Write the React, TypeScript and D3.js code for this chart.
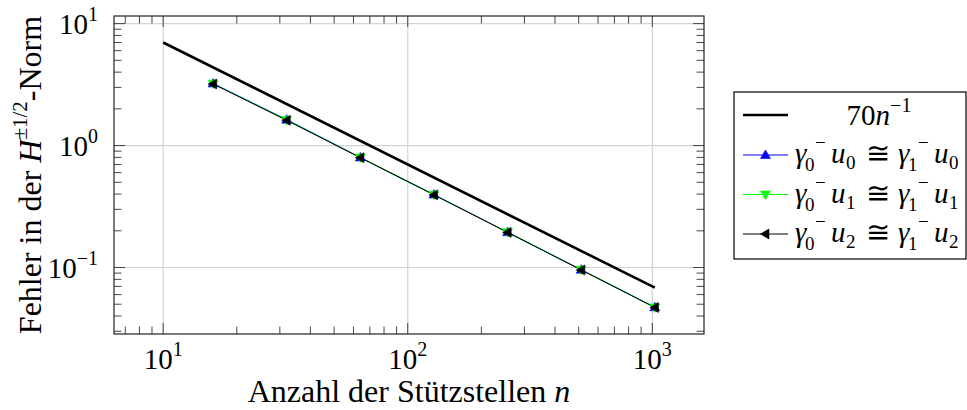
import * as d3 from "d3";

// Stützstellen n
const nodes = [16, 32, 64, 128, 256, 512, 1024];
// error values
const errU0 = [3.23, 1.63, 0.8, 0.396, 0.195, 0.096, 0.0472];
const errU1 = [3.22, 1.62, 0.8, 0.395, 0.195, 0.0958, 0.0471];
const errU2 = [3.2, 1.61, 0.795, 0.394, 0.194, 0.0955, 0.047];
// reference line 70 n^-1
const refN = [10, 1024];
const refCoef = 70;

const xTickExps = [1, 2, 3];
const yTickExps = [-1, 0, 1];

const W = 967;
const H = 410;
const plot = { left: 114, right: 704, top: 16, bottom: 334 };
const FONT = "'Liberation Serif', 'Times New Roman', serif";

function enlarged(lo: number, hi: number) {
  const a = Math.log10(lo);
  const b = Math.log10(hi);
  const pad = (b - a) * 0.1;
  return [Math.pow(10, a - pad), Math.pow(10, b + pad)];
}

const refVals = refN.map((n) => refCoef / n);
const allY = [...errU0, ...errU1, ...errU2, ...refVals];

const x = d3
  .scaleLog()
  .domain(enlarged(d3.min(refN)!, d3.max(nodes)!))
  .range([plot.left, plot.right]);
const y = d3
  .scaleLog()
  .domain(enlarged(d3.min(allY)!, d3.max(allY)!))
  .range([plot.bottom, plot.top]);

function minorTicks(scale: d3.ScaleLogarithmic<number, number>) {
  const [a, b] = scale.domain();
  const out: number[] = [];
  for (let e = Math.floor(Math.log10(a)); e <= Math.ceil(Math.log10(b)); e++) {
    for (let m = 2; m <= 9; m++) {
      const v = m * Math.pow(10, e);
      if (v > a && v < b) out.push(v);
    }
  }
  return out;
}

const series = [
  { vals: errU0, color: "#0000ff", shape: "up" },
  { vals: errU1, color: "#00ff00", shape: "down" },
  { vals: errU2, color: "#000000", shape: "left" },
];

function marker(shape: string, cx: number, cy: number, color: string, key: string) {
  const r = 5;
  let pts: [number, number][];
  if (shape === "up") pts = [[cx, cy - r], [cx + r, cy + r * 0.7], [cx - r, cy + r * 0.7]];
  else if (shape === "down") pts = [[cx, cy + r], [cx + r, cy - r * 0.7], [cx - r, cy - r * 0.7]];
  else pts = [[cx - r, cy], [cx + r * 0.7, cy - r], [cx + r * 0.7, cy + r]];
  return <polygon key={key} points={pts.map((p) => p.join(",")).join(" ")} fill={color} stroke={color} strokeWidth={0.6} />;
}

// one legend entry  γ_0^- u_i ≅ γ_1^- u_i, pieces placed along the row
function LegendMath({ x0, yb, idx }: { x0: number; yb: number; idx: number }) {
  const big = 29;
  const small = 19;
  const part = (dx: number, gSub: string) => (
    <>
      <text x={x0 + dx} y={yb} fontSize={big} fontStyle="italic">γ</text>
      <text x={x0 + dx + 20} y={yb - 14} fontSize={small}>−</text>
      <text x={x0 + dx + 10} y={yb + 8} fontSize={small}>{gSub}</text>
      <text x={x0 + dx + 36} y={yb} fontSize={big} fontStyle="italic">u</text>
      <text x={x0 + dx + 51} y={yb + 6} fontSize={small}>{String(idx)}</text>
    </>
  );
  return (
    <g fill="#000">
      {part(0, "0")}
      <text x={x0 + 71} y={yb} fontSize={big}>≅</text>
      {part(103, "1")}
    </g>
  );
}

export default function App() {
  const line = d3
    .line<[number, number]>()
    .x((d) => x(d[0]))
    .y((d) => y(d[1]));

  const xMinor = minorTicks(x);
  const yMinor = minorTicks(y);
  const xMajor = xTickExps.map((e) => Math.pow(10, e));
  const yMajor = yTickExps.map((e) => Math.pow(10, e));
  const tickCol = "#333";

  const legend = { left: 734, right: 966, top: 92, bottom: 259 };
  const rows = [115, 155, 194.5, 234];
  const sampleX0 = 743;
  const sampleX1 = 788;

  return (
    <svg width={W} height={H} style={{ position: "absolute", left: 0, top: 0, background: "#fff" }} fontFamily={FONT}>
      {/* grid */}
      {xMajor.map((v) => (
        <line key={"gx" + v} x1={x(v)} x2={x(v)} y1={plot.top} y2={plot.bottom} stroke="#d3d3d3" strokeWidth={1.2} />
      ))}
      {yMajor.map((v) => (
        <line key={"gy" + v} y1={y(v)} y2={y(v)} x1={plot.left} x2={plot.right} stroke="#d3d3d3" strokeWidth={1.2} />
      ))}

      {/* ticks */}
      {xMinor.map((v) => (
        <g key={"xm" + v} stroke={tickCol} strokeWidth={0.9}>
          <line x1={x(v)} x2={x(v)} y1={plot.bottom} y2={plot.bottom - 7.5} />
          <line x1={x(v)} x2={x(v)} y1={plot.top} y2={plot.top + 7.5} />
        </g>
      ))}
      {yMinor.map((v) => (
        <g key={"ym" + v} stroke={tickCol} strokeWidth={0.9}>
          <line y1={y(v)} y2={y(v)} x1={plot.left} x2={plot.left + 7.5} />
          <line y1={y(v)} y2={y(v)} x1={plot.right} x2={plot.right - 7.5} />
        </g>
      ))}
      {xMajor.map((v) => (
        <g key={"xM" + v} stroke={tickCol} strokeWidth={0.9}>
          <line x1={x(v)} x2={x(v)} y1={plot.bottom} y2={plot.bottom - 11} />
          <line x1={x(v)} x2={x(v)} y1={plot.top} y2={plot.top + 11} />
        </g>
      ))}
      {yMajor.map((v) => (
        <g key={"yM" + v} stroke={tickCol} strokeWidth={0.9}>
          <line y1={y(v)} y2={y(v)} x1={plot.left} x2={plot.left + 11} />
          <line y1={y(v)} y2={y(v)} x1={plot.right} x2={plot.right - 11} />
        </g>
      ))}

      {/* reference line */}
      <path d={line(refN.map((n, i) => [n, refVals[i]]))!} fill="none" stroke="#000" strokeWidth={2.6} />

      {/* series lines */}
      {series.map((s, i) => (
        <path key={"l" + i} d={line(nodes.map((n, j) => [n, s.vals[j]]))!} fill="none" stroke={s.color} strokeWidth={1} />
      ))}
      {series.map((s, i) => (
        <g key={"m" + i}>{nodes.map((n, j) => marker(s.shape, x(n), y(s.vals[j]), s.color, i + "-" + j))}</g>
      ))}

      {/* frame */}
      <rect x={plot.left} y={plot.top} width={plot.right - plot.left} height={plot.bottom - plot.top} fill="none" stroke="#222" strokeWidth={1.2} />

      {/* tick labels */}
      {xTickExps.map((e) => (
        <text key={"xt" + e} x={x(Math.pow(10, e))} y={369} fontSize={29} textAnchor="middle" fill="#000">
          10<tspan fontSize={20} dy={-13}>{e < 0 ? "−" + -e : String(e)}</tspan>
        </text>
      ))}
      {yTickExps.map((e) => (
        <text key={"yt" + e} x={98} y={y(Math.pow(10, e)) + 10} fontSize={29} textAnchor="end" fill="#000">
          10<tspan fontSize={20} dy={-13}>{e < 0 ? "−" + -e : String(e)}</tspan>
        </text>
      ))}

      {/* axis labels */}
      <text x={(plot.left + plot.right) / 2} y={402} fontSize={32} textAnchor="middle" fill="#000">
        Anzahl der Stützstellen <tspan fontStyle="italic">n</tspan>
      </text>
      <text transform={`translate(41,${(plot.top + plot.bottom) / 2}) rotate(-90)`} fontSize={32} textAnchor="middle" fill="#000">
        Fehler in der <tspan fontStyle="italic">H</tspan>
        <tspan fontSize={21} dy={-14}>±1/2</tspan>
        <tspan dy={14}>-Norm</tspan>
      </text>

      {/* legend */}
      <rect x={legend.left} y={legend.top} width={legend.right - legend.left} height={legend.bottom - legend.top} fill="#fff" stroke="#000" strokeWidth={1.2} />
      <line x1={sampleX0} x2={sampleX1} y1={rows[0]} y2={rows[0]} stroke="#000" strokeWidth={2.6} />
      <text x={879} y={rows[0] + 10} fontSize={29} textAnchor="middle" fill="#000">
        70<tspan fontStyle="italic">n</tspan>
        <tspan fontSize={20} dy={-13}>−1</tspan>
      </text>
      {series.map((s, i) => (
        <g key={"lg" + i}>
          <line x1={sampleX0} x2={sampleX1} y1={rows[i + 1]} y2={rows[i + 1]} stroke={s.color} strokeWidth={1} />
          {marker(s.shape, (sampleX0 + sampleX1) / 2, rows[i + 1], s.color, "lm" + i)}
          <LegendMath x0={795} yb={rows[i + 1] + 8} idx={i} />
        </g>
      ))}
    </svg>
  );
}
